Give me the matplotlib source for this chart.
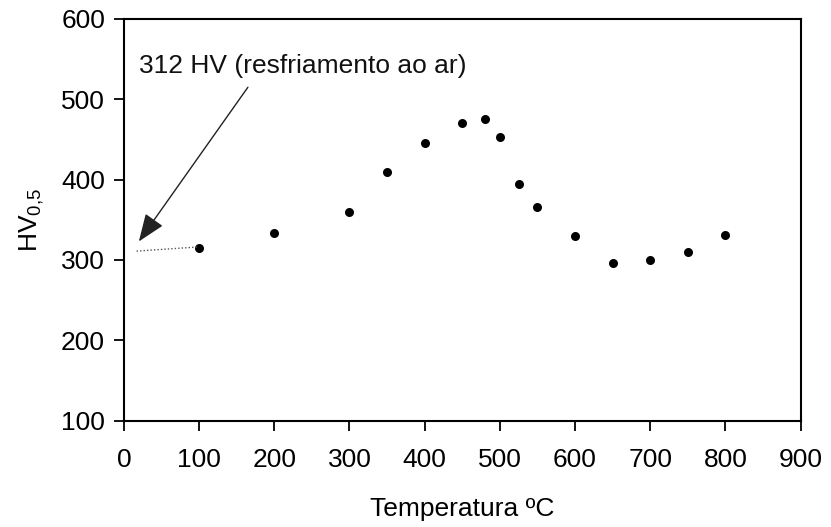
import matplotlib
matplotlib.use('Agg')
import matplotlib.pyplot as plt

matplotlib.rcParams.update({
    'font.family': ['Liberation Sans', 'DejaVu Sans'],
    'font.size': 19,
    'mathtext.fontset': 'custom',
    'mathtext.rm': 'Liberation Sans',
    'mathtext.it': 'Liberation Sans',
    'axes.linewidth': 1.5,
    'xtick.major.width': 1.3,
    'ytick.major.width': 1.3,
    'xtick.major.size': 7.5,
    'ytick.major.size': 7.5,
})

# Temperatura (ºC) vs dureza HV0,5
temps = [100, 200, 300, 350, 400, 450, 480, 500, 525, 550, 600, 650, 700, 750, 800]
hv = [315, 334, 360, 410, 445, 470, 476, 453, 395, 366, 330, 296, 300, 310, 331]

# air-cooled reference (312 HV), dotted link to first point
air_x = [17, 97]
air_y = [311, 316]

x_ticks = [0, 100, 200, 300, 400, 500, 600, 700, 800, 900]
y_ticks = [100, 200, 300, 400, 500, 600]

fig = plt.figure(figsize=(8.31, 5.27), dpi=100)
ax = fig.add_axes([0.149, 0.202, 0.8145, 0.762])

ax.plot(temps, hv, 'o', color='black', markersize=6.5, markeredgewidth=0)
ax.plot(air_x, air_y, linestyle=(0, (1, 1.5)), color='#555555', linewidth=1.0)

ax.annotate('', xy=(20, 323), xytext=(165, 515),
            arrowprops=dict(arrowstyle='-|>,head_length=0.9,head_width=0.35',
                            color='#222222', lw=1.0, shrinkA=0, shrinkB=0))
ax.text(20, 541, '312 HV (resfriamento ao ar)', ha='left', va='center',
        fontsize=19, color='#111111')

ax.set_xlim(0, 900)
ax.set_ylim(100, 600)
ax.set_xticks(x_ticks)
ax.set_yticks(y_ticks)
ax.tick_params(axis='x', direction='out', pad=12)
ax.tick_params(axis='y', direction='out', pad=6)

ax.set_xlabel('Temperatura ºC', labelpad=18)
ax.set_ylabel(r'HV$_{\mathrm{0{,}5}}$', labelpad=11)

fig.savefig('out.png', dpi=100)
plt.close()
